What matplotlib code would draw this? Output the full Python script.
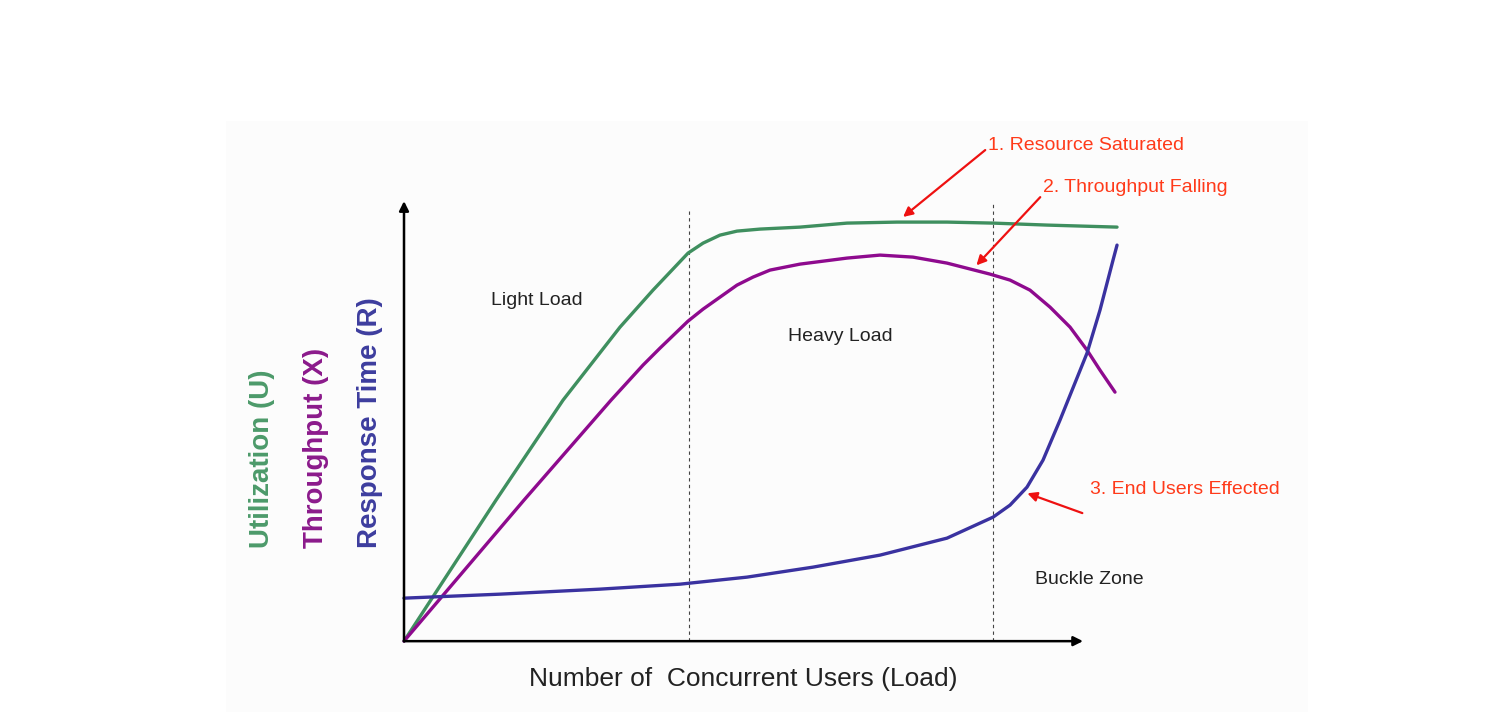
"""Performance curves: utilization, throughput and response time against load."""
import matplotlib
matplotlib.use("Agg")
import matplotlib.pyplot as plt
from matplotlib.patches import Rectangle

plt.rcParams["font.family"] = ["Liberation Sans", "DejaVu Sans"]

# load axis is 0..100, every curve is in 0..100 chart units
util_x = [0, 13.55, 23.42, 31.81, 36.67, 39.18, 41.83, 44.04, 46.54, 49.04, 52.43, 58.32, 65.24,
          72.61, 79.97, 86.75, 94.70, 105.01]
util_y = [0, 32.05, 54.77, 71.36, 79.77, 83.86, 88.18, 90.45, 92.27, 93.18, 93.64, 94.09, 95.0,
          95.23, 95.23, 95.0, 94.55, 94.09]

thru_x = [0, 17.67, 30.49, 35.20, 37.70, 41.83, 44.04, 46.54, 49.04, 51.40, 53.90, 58.32, 65.24,
          70.10, 74.96, 79.97, 86.30, 89.25, 92.19, 95.14, 98.09, 100.59, 102.50, 104.71]
thru_y = [0, 32.05, 54.77, 62.73, 66.59, 72.73, 75.45, 78.18, 80.91, 82.73, 84.32, 85.68, 87.05,
          87.73, 87.27, 85.91, 83.41, 82.05, 79.77, 75.91, 71.36, 66.14, 61.59, 56.59]

resp_x = [0, 14.14, 28.87, 40.65, 50.52, 60.24, 70.10, 79.97, 86.75, 89.25, 91.75, 94.11, 96.61,
          100.59, 102.50, 104.42, 105.01]
resp_y = [9.77, 10.68, 11.82, 12.95, 14.55, 16.82, 19.55, 23.41, 28.18, 30.91, 35.0, 41.14, 50.23,
          65.45, 75.23, 86.59, 90.0]

zone_bounds = [42.0, 86.7]
zone_tops = [98.5, 100.0]
zone_names = ["Light Load", "Heavy Load", "Buckle Zone"]
zone_pos = [(19.6, 77.3), (64.2, 69.3), (101.0, 13.9)]

notes = ["1. Resource Saturated", "2. Throughput Falling", "3. End Users Effected"]
note_text = [(86.0, 112.7), (94.1, 103.2), (101.0, 34.5)]
note_tail = [(85.6, 111.6), (93.7, 100.9), (99.9, 29.1)]
note_head = [(73.5, 96.4), (84.3, 85.4), (91.8, 33.6)]

GREEN = "#3f8f5f"
PURPLE = "#8e0a8e"
BLUE = "#3a32a0"
RED = "#ff3a1a"

fig = plt.figure(figsize=(15.04, 7.12), dpi=100)
fig.patches.append(Rectangle((0.15, 0.0), 0.72, 0.83, transform=fig.transFigure,
                             facecolor="#fcfcfc", edgecolor="none", zorder=-1))
ax = fig.add_axes([0, 0, 1, 1])
ax.set_xlim(-59.5, 162.0)
ax.set_ylim(-16.1, 145.7)
ax.axis("off")
ax.patch.set_alpha(0)

# axes with arrow heads
arrow_kw = dict(arrowstyle="-|>", color="black", lw=1.8, mutation_scale=14, shrinkA=0, shrinkB=0)
ax.annotate("", xy=(100, 0), xytext=(0, 0), arrowprops=arrow_kw)
ax.annotate("", xy=(0, 100), xytext=(0, 0), arrowprops=arrow_kw)

for xb, top in zip(zone_bounds, zone_tops):
    ax.plot([xb, xb], [0, top], color="#444444", lw=0.8, linestyle=(0, (3, 3)))

line_kw = dict(lw=2.4, solid_capstyle="round", solid_joinstyle="round")
ax.plot(util_x, util_y, color=GREEN, **line_kw)
ax.plot(thru_x, thru_y, color=PURPLE, **line_kw)
ax.plot(resp_x, resp_y, color=BLUE, **line_kw)

for name, (zx, zy) in zip(zone_names, zone_pos):
    ax.text(zx, zy, name, fontsize=14, color="#222222", ha="center", va="center")

for txt, tp, tail, head in zip(notes, note_text, note_tail, note_head):
    ax.annotate("", xy=head, xytext=tail,
                arrowprops=dict(arrowstyle="-|>", color="#ee1111", lw=1.6, mutation_scale=14,
                                shrinkA=0, shrinkB=0))
    ax.text(tp[0], tp[1], txt, fontsize=14, color=RED, ha="left", va="center")

ax.text(49.9, -8.6, "Number of  Concurrent Users (Load)", fontsize=19, color="#222222",
        ha="center", va="center")

ylabels = ["Utilization (U)", "Throughput (X)", "Response Time (R)"]
ylabel_colors = ["#4c9a6a", "#8b1a8b", "#3d3d9e"]
ylabel_x = [-20.9, -13.0, -5.0]
for lab, col, lx in zip(ylabels, ylabel_colors, ylabel_x):
    ax.text(lx, 21.1, lab, fontsize=20, fontweight="bold", color=col, rotation=90,
            ha="center", va="bottom")

fig.savefig("out.png", dpi=100)
